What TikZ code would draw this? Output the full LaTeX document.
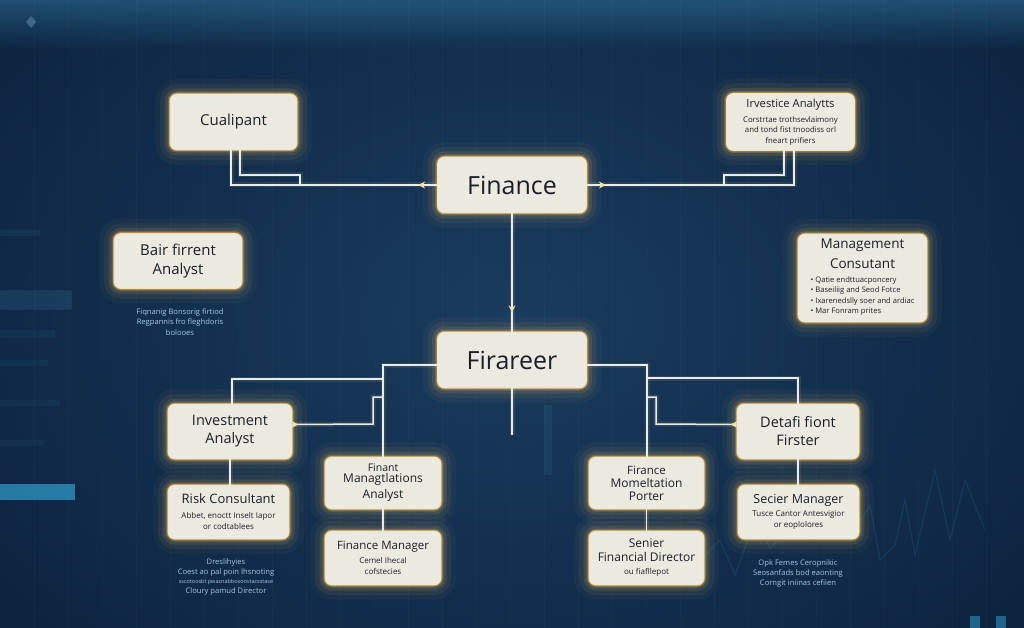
\documentclass[tikz,border=0pt]{standalone}
\usepackage{fontspec}
\setmainfont{Open Sans}
\usetikzlibrary{arrows.meta,decorations.markings}

\definecolor{bgmid}{HTML}{1A3C5F}
\definecolor{bgdark}{HTML}{0D2440}
\definecolor{bgtop}{HTML}{2E7399}
\definecolor{boxfill}{HTML}{ECE9E0}
\definecolor{boxedge}{HTML}{F6E3B4}
\definecolor{glowcol}{HTML}{EDB85A}
\definecolor{wirecol}{HTML}{E4EDF2}
\definecolor{tipcol}{HTML}{F2DFAE}
\definecolor{inkcol}{HTML}{1A2029}
\definecolor{notecol}{HTML}{A4C8E4}
\definecolor{cyanbar}{HTML}{36B4E6}
\definecolor{chartcol}{HTML}{2E7AA6}

\tikzset{
  nbox/.style={rectangle, rounded corners=7pt, fill=boxfill, draw=boxedge,
    line width=0.8pt, text=inkcol, align=center, inner sep=0pt,
    preaction={draw=glowcol, line width=30pt, opacity=0.04},
    preaction={draw=glowcol, line width=20pt, opacity=0.07},
    preaction={draw=glowcol, line width=11pt, opacity=0.12},
    preaction={draw=glowcol, line width=5pt, opacity=0.25},
    preaction={draw=glowcol, line width=2.5pt, opacity=0.45}},
  wire/.style={draw=wirecol, line width=1.5pt,
    preaction={draw=glowcol, line width=5pt, opacity=0.12}},
  notetext/.style={text=notecol, align=center, inner sep=0pt},
  tipmark/.style={postaction={decorate, decoration={markings,
    mark=at position #1 with {\arrow[tipcol]{Stealth[length=7pt,width=7pt]}}}}},
}

\begin{document}
\begin{tikzpicture}[x=1pt,y=-1pt]
% ---------- background ----------
\useasboundingbox (0,0) rectangle (1024,628);
\fill[bgdark] (0,0) rectangle (1024,628);
\shade[inner color=bgmid, outer color=bgdark] (-120,-160) rectangle (1144,788);
\foreach \i in {0,...,24} {
  \fill[bgtop, opacity={0.55*(1-\i/25)}] (0,{2*\i}) rectangle (1024,{2*\i+2});
}
\foreach \gx in {34,68,...,1000} {
  \draw[white, opacity=0.025, line width=0.6pt] (\gx,0) -- (\gx,628);
}
\fill[bgtop, opacity=0.25] (0,290) rectangle (72,310);
\fill[bgtop, opacity=0.12] (0,330) rectangle (55,338);
\fill[bgtop, opacity=0.12] (0,360) rectangle (48,366);
\fill[bgtop, opacity=0.1] (0,400) rectangle (60,406);
\fill[bgtop, opacity=0.1] (0,440) rectangle (45,446);
\fill[cyanbar, opacity=0.6] (0,484) rectangle (75,500);
\fill[bgtop, opacity=0.15] (0,230) rectangle (40,236);
\fill[notecol, opacity=0.3] (26,22) -- (31,16) -- (36,22) -- (31,28) -- cycle;
\fill[bgtop, opacity=0.2] (544,405) rectangle (552,475);
\draw[chartcol, opacity=0.22, line width=1.1pt]
  (700,560) -- (720,540) -- (735,575) -- (755,520) -- (770,548) -- (790,530)
  -- (850,540) -- (870,505) -- (880,560) -- (895,545) -- (905,500) -- (915,555)
  -- (935,470) -- (950,540) -- (965,480) -- (985,530);
\fill[cyanbar, opacity=0.45] (970,616) rectangle (980,628);
\fill[cyanbar, opacity=0.45] (996,616) rectangle (1006,628);

% ---------- nodes ----------
\node[nbox, minimum width=127pt, minimum height=56pt, font=\fontsize{15}{18}\selectfont]
  (cual) at (233.5,122) {Cualipant};
\node[nbox, minimum width=149pt, minimum height=56pt, font=\fontsize{25}{30}\selectfont]
  (fin) at (512,185) {Finance};
\node[nbox, minimum width=128pt, minimum height=57pt, font=\fontsize{7.8}{10.5}\selectfont]
  (inva) at (790.5,122) {{\fontsize{11.2}{13}\selectfont Irvestice Analytts}\\[4pt]
  Corstrtae trothsevlaimony\\and tond fist tnoodiss orl\\fneart prifiers};
\node[nbox, minimum width=128pt, minimum height=55pt, font=\fontsize{15}{19}\selectfont]
  (bair) at (178,261) {Bair firrent\\Analyst};
\node[nbox, minimum width=129pt, minimum height=88pt, font=\fontsize{7.6}{10.5}\selectfont]
  (mgmt) at (862.5,278) {{\fontsize{13.5}{16}\selectfont Management}\\[5.5pt]
  {\fontsize{13.5}{16}\selectfont Consutant}\\[3.5pt]
  \begin{tabular}[t]{@{}l@{}}
  • Qatie endttuacponcery\\
  • Baseiliig and Seod Fotce\\
  • Ixarenedslly soer and ardiac\\
  • Mar Fonram prites
  \end{tabular}};
\node[nbox, minimum width=149pt, minimum height=56pt, font=\fontsize{25}{30}\selectfont]
  (firr) at (512,360) {Firareer};
\node[nbox, minimum width=124pt, minimum height=55pt, font=\fontsize{14.5}{18}\selectfont]
  (inv) at (230,431.5) {Investment\\Analyst};
\node[nbox, minimum width=121pt, minimum height=54pt, font=\fontsize{8}{11}\selectfont]
  (risk) at (228.5,512) {{\fontsize{13}{15}\selectfont Risk Consultant}\\[4pt]
  Abbet, enoctt Inselt Iapor\\or codtablees};
\node[nbox, minimum width=116pt, minimum height=52pt, font=\fontsize{12}{14}\selectfont]
  (fma) at (383,483) {{\fontsize{10.5}{12}\selectfont Finant}\\[-3pt]Managtlations\\[2pt]Analyst};
\node[nbox, minimum width=116pt, minimum height=54pt, font=\fontsize{8}{11}\selectfont]
  (fmgr) at (383,558) {{\fontsize{11.5}{14}\selectfont Finance Manager}\\[3pt]
  Cemel Ihecal\\cofstecies};
\node[nbox, minimum width=115pt, minimum height=52pt, font=\fontsize{12}{13}\selectfont]
  (fmp) at (646.5,483) {{\fontsize{11.5}{13}\selectfont Firance}\\Momeltation\\Porter};
\node[nbox, minimum width=115pt, minimum height=54pt, font=\fontsize{12}{14}\selectfont]
  (sfd) at (646.5,558) {Senier\\Financial Director\\[-1pt]{\fontsize{8}{10}\selectfont ou fiafllepot}};
\node[nbox, minimum width=122pt, minimum height=55pt, font=\fontsize{14.5}{18}\selectfont]
  (dff) at (798,431.5) {Detafi fiont\\Firster};
\node[nbox, minimum width=121pt, minimum height=54pt, font=\fontsize{8}{11}\selectfont]
  (smgr) at (798.5,512) {{\fontsize{12.5}{15}\selectfont Secier Manager}\\[2pt]
  Tusce Cantor Antesvigior\\or eoplolores};

% ---------- free notes ----------
\node[notetext, font=\fontsize{7.6}{10.3}\selectfont] (nbair) at (180,322)
  {Fiqnanig Bonsorig firtiod\\Regpannis fro fleghdoris\\bolooes};
\node[notetext, font=\fontsize{7.6}{9.6}\selectfont] (nrisk) at (226,577)
  {Dreslihyies\\Coest ao pal poin Ihsnoting\\{\fontsize{5.5}{9.6}\selectfont sscotoosbt pwacnabbosoovtacsstase}\\Cloury pamud Director};
\node[notetext, font=\fontsize{7.6}{10}\selectfont] (nsec) at (798,574)
  {Opk Femes Ceropnikic\\Seosanfads bod eaonting\\Corngit iniinas cefiien};

% ---------- coordinates ----------
\coordinate (cL1) at (231,185);
\coordinate (cL2) at (300,185);
\coordinate (cL3) at (240,175);
\coordinate (cR1) at (794,185);
\coordinate (cR2) at (724,185);
\coordinate (cR3) at (784,175);
\coordinate (bL1) at (383,365);
\coordinate (bL2) at (383,379);
\coordinate (bL3) at (232,379);
\coordinate (bL4) at (383,397);
\coordinate (bL5) at (373,397);
\coordinate (bL6) at (373,424);
\coordinate (bR1) at (647,365);
\coordinate (bR2) at (647,378);
\coordinate (bR3) at (798,378);
\coordinate (bR4) at (647,397);
\coordinate (bR5) at (656,397);
\coordinate (bR6) at (656,424);
\coordinate (bEnd) at (512,435);

% ---------- connectors ----------
\draw[wire, tipmark=19pt] (fin.west) -- (cL1) -- (cL1 |- cual.south);
\draw[wire] (cL2) -- (cL2 |- cL3) -- (cL3) -- (cL3 |- cual.south);
\draw[wire, tipmark=19pt] (fin.east) -- (cR1) -- (cR1 |- inva.south);
\draw[wire] (cR2) -- (cR2 |- cR3) -- (cR3) -- (cR3 |- inva.south);
\draw[wire, tipmark=99pt] (fin.south) -- (firr.north);

\draw[wire] ([yshift=-5pt]firr.west) -- (bL1) -- (bL1 |- fma.north);
\draw[wire] (bL2) -- (bL3) -- (bL3 |- inv.north);
\draw[wire, tipmark=6pt] ([yshift=7pt]inv.east) -- (bL6) -- (bL5) -- (bL4);
\draw[wire] (inv.south) -- (inv.south |- risk.north);
\draw[wire] (fma.south) -- (fmgr.north);
\draw[wire] (firr.south) -- (bEnd);

\draw[wire] ([yshift=-5pt]firr.east) -- (bR1) -- (bR1 |- fmp.north);
\draw[wire] (bR2) -- (bR3) -- (bR3 |- dff.north);
\draw[wire, tipmark=6pt] ([yshift=7pt]dff.west) -- (bR6) -- (bR5) -- (bR4);
\draw[wire] (dff.south) -- (dff.south |- smgr.north);
\draw[wire] (fmp.south) -- (sfd.north);
\end{tikzpicture}
\end{document}
